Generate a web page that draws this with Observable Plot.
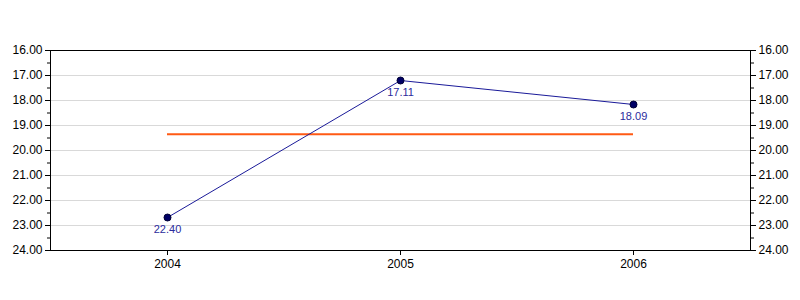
<!DOCTYPE html>
<html>
<head>
<meta charset="utf-8">
<script src="https://cdn.jsdelivr.net/npm/d3@7"></script>
<script src="https://cdn.jsdelivr.net/npm/@observablehq/plot@0.6"></script>
<style>
  html, body { margin: 0; padding: 0; background: #fff; }
</style>
</head>
<body>
<div id="chart"></div>
<script>
const years = ["2004", "2005", "2006"];
const values = [22.68, 17.2, 18.16];
const labels = ["22.40", "17.11", "18.09"];
const meanValue = 19.35;
const majorTicks = [16, 17, 18, 19, 20, 21, 22, 23, 24];
const minorTicks = [16.5, 17.5, 18.5, 19.5, 20.5, 21.5, 22.5, 23.5];
const gridTicks = [17, 18, 19, 20, 21, 22, 23];

const data = years.map((y, i) => ({year: y, value: values[i], label: labels[i]}));

const chart = Plot.plot({
  width: 800,
  height: 300,
  marginLeft: 50,
  marginRight: 50,
  marginTop: 50,
  marginBottom: 50,
  style: {fontFamily: "'Liberation Sans', Arial, sans-serif", fontSize: "12px", color: "black", background: "white"},
  x: {type: "point", domain: years, padding: 0.5, axis: null},
  y: {domain: [16, 24], reverse: true, axis: null},
  marks: [
    Plot.gridY(gridTicks, {stroke: "#d9d9d9", strokeOpacity: 1}),
    Plot.frame({stroke: "black", strokeWidth: 1}),
    Plot.axisY(majorTicks, {anchor: "left", tickSize: 5, tickPadding: 3, tickFormat: d => d.toFixed(2), stroke: "black", strokeOpacity: 1, fill: "black", label: null}),
    Plot.axisY(minorTicks, {anchor: "left", tickSize: 3, tickFormat: () => "", stroke: "black", strokeOpacity: 1, label: null}),
    Plot.axisY(majorTicks, {anchor: "right", tickSize: 5, tickPadding: 3, tickFormat: d => d.toFixed(2), stroke: "black", strokeOpacity: 1, fill: "black", label: null}),
    Plot.axisY(minorTicks, {anchor: "right", tickSize: 3, tickFormat: () => "", stroke: "black", strokeOpacity: 1, label: null}),
    Plot.axisX(years, {anchor: "bottom", tickSize: 5, tickPadding: 4, stroke: "black", strokeOpacity: 1, fill: "black", label: null}),
    Plot.ruleY([meanValue], {x1: () => years[0], x2: () => years[years.length - 1], stroke: "#ff5a14", strokeWidth: 2}),
    Plot.line(data, {x: "year", y: "value", stroke: "#1a1a99", strokeWidth: 1}),
    Plot.dot(data, {x: "year", y: "value", r: 3.5, fill: "#000066", stroke: "#000033", strokeWidth: 1}),
    Plot.text(data, {x: "year", y: "value", text: "label", dy: 12, fill: "#2b2b9c", fontSize: 11})
  ]
});
document.getElementById("chart").appendChild(chart);
</script>
</body>
</html>
